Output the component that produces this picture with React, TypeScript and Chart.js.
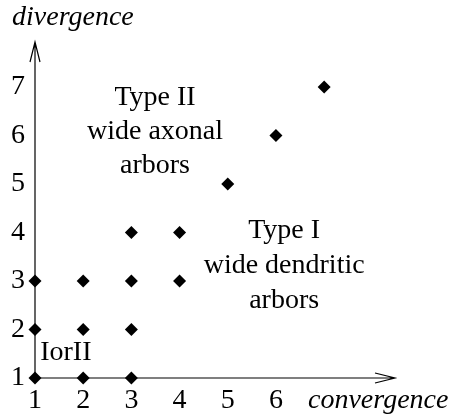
import React, { useEffect, useRef } from "react";
import { Chart, registerables } from "chart.js";

Chart.register(...registerables);

const convergence = [1, 2, 3, 1, 2, 3, 1, 2, 3, 4, 3, 4, 5, 6, 7];
const divergence = [1, 1, 1, 2, 2, 2, 3, 3, 3, 3, 4, 4, 5, 6, 7];
const xTicks = [1, 2, 3, 4, 5, 6];
const yTicks = [1, 2, 3, 4, 5, 6, 7];
const xAxisTitle = "convergence";
const yAxisTitle = "divergence";
const regionLabels = [
  { lines: ["Type II", "wide axonal", "arbors"], x: 3.49, y: [6.63, 5.93, 5.23], align: "center" },
  { lines: ["Type I", "wide dendritic", "arbors"], x: 6.17, y: [3.89, 3.17, 2.44], align: "center" },
  { lines: ["IorII"], x: 1.64, y: [1.37], align: "center" },
];

const FONT = "Liberation Serif";

export default function App() {
  const ref = useRef<HTMLCanvasElement>(null);
  useEffect(() => {
    const canvas = ref.current!;
    const points = convergence.map((c, i) => ({ x: c, y: divergence[i] }));

    const decor = {
      id: "decor",
      beforeDatasetsDraw(chart: any) {
        const { ctx, chartArea: a } = chart;
        ctx.save();
        ctx.strokeStyle = "#000";
        ctx.lineWidth = 1.2;
        // x axis
        ctx.beginPath();
        ctx.moveTo(a.left, a.bottom);
        ctx.lineTo(a.right, a.bottom);
        ctx.moveTo(a.right - 20, a.bottom - 5);
        ctx.lineTo(a.right, a.bottom);
        ctx.lineTo(a.right - 20, a.bottom + 5);
        // y axis
        ctx.moveTo(a.left, a.bottom);
        ctx.lineTo(a.left, a.top);
        ctx.moveTo(a.left - 5, a.top + 20);
        ctx.lineTo(a.left, a.top);
        ctx.lineTo(a.left + 5, a.top + 20);
        ctx.stroke();

        const xs = chart.scales.x;
        const ys = chart.scales.y;
        ctx.fillStyle = "#000";
        ctx.textBaseline = "alphabetic";
        ctx.font = `28px "${FONT}"`;
        for (const lab of regionLabels) {
          ctx.textAlign = lab.align;
          lab.lines.forEach((t, i) => {
            ctx.fillText(t, xs.getPixelForValue(lab.x), ys.getPixelForValue(lab.y[i]));
          });
        }
        ctx.font = `italic 28px "${FONT}"`;
        ctx.textAlign = "left";
        ctx.fillText(yAxisTitle, 12, 25);
        ctx.fillText(xAxisTitle, 308, 408);
        ctx.restore();
      },
    };

    const chart = new Chart(canvas, {
      type: "scatter",
      data: {
        datasets: [
          {
            data: points,
            pointStyle: "rectRot",
            pointRadius: 6.5,
            pointHoverRadius: 6.5,
            backgroundColor: "#000",
            borderColor: "#000",
            borderWidth: 0,
            clip: false,
          } as any,
        ],
      },
      options: {
        animation: false,
        responsive: false,
        devicePixelRatio: 1,
        layout: { padding: { top: 42, right: 57, left: 0, bottom: 0 } },
        plugins: { legend: { display: false }, tooltip: { enabled: false } },
        scales: {
          x: {
            type: "linear",
            min: 1,
            max: 8.47,
            grid: { display: false, drawTicks: false },
            border: { display: false },
            ticks: { color: "#000", font: { family: FONT, size: 28 }, padding: 6 },
            afterBuildTicks: (s: any) => {
              s.ticks = xTicks.map((v) => ({ value: v }));
            },
            afterFit: (s: any) => {
              s.height = 42;
            },
          },
          y: {
            type: "linear",
            min: 1,
            max: 7.93,
            grid: { display: false, drawTicks: false },
            border: { display: false },
            ticks: { color: "#000", font: { family: FONT, size: 28 }, padding: 10 },
            afterBuildTicks: (s: any) => {
              s.ticks = yTicks.map((v) => ({ value: v }));
            },
            afterFit: (s: any) => {
              s.width = 35;
            },
          },
        },
      },
      plugins: [decor],
    });
    return () => chart.destroy();
  }, []);

  return (
    <div style={{ position: "fixed", left: 0, top: 0, width: 452, height: 420, background: "#fff" }}>
      <canvas ref={ref} width={452} height={420} />
    </div>
  );
}
